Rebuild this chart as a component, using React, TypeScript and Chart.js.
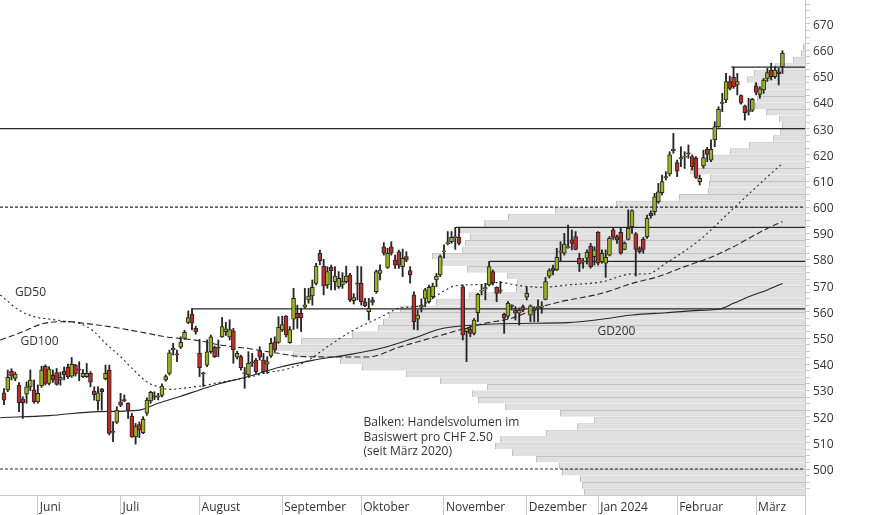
import React, { useEffect, useRef } from 'react';
import { Chart, registerables } from 'chart.js';

Chart.register(...registerables);

const FONT = "'Open Sans', 'Noto Sans', sans-serif";
const INK = '#262626';
const UP = '#9db31f';
const DOWN = '#b8302a';
const AXIS = '#c9c9c9';

// ---- Candles (trading-day index 0 = mid May 2023) ----
const opens = [
  529.1, 530.2, 537.3, 534.6, 532.1, 526.7, 528.6, 531.4, 530.2, 525.6,
  531.7, 539.3, 532.7, 535.8, 536.8, 534.0, 537.3, 538.8, 535.5, 539.7,
  538.1, 535.3, 535.3, 536.5, 529.8, 526.0, 530.5, 534.5, 537.8, 514.0,
  517.8, 525.7, 526.4, 525.1, 520.2, 512.3, 517.0, 513.9, 521.3, 526.0,
  527.8, 527.6, 528.1, 534.0, 536.5, 545.8, 543.9, 546.5, 549.9, 556.0,
  559.2, 553.7, 544.2, 536.6, 539.7, 544.8, 546.5, 546.5, 550.5, 552.5,
  550.5, 552.8, 542.7, 542.9, 536.6, 535.9, 540.8, 541.6, 545.1, 541.6,
  540.0, 543.2, 548.6, 548.4, 553.1, 558.4, 548.3, 557.2, 559.5, 559.5,
  561.8, 564.6, 566.1, 570.9, 582.4, 577.5, 570.3, 577.0, 571.6, 569.6,
  570.3, 571.6, 574.1, 564.3, 570.9, 570.9, 563.9, 560.1, 564.6, 567.7,
  574.7, 584.9, 577.0, 584.9, 579.8, 583.0, 577.3, 581.1, 575.8, 566.5,
  557.2, 561.8, 565.2, 563.9, 565.8, 572.2, 574.1, 583.0, 586.2, 586.8,
  588.5, 588.5, 569.6, 552.5, 553.4, 551.8, 559.7, 568.1, 569.0, 570.3,
  575.4, 569.4, 568.2, 559.1, 558.4, 562.3, 560.7, 559.5, 562.0, 565.6,
  558.8, 561.4, 561.8, 562.0, 564.8, 573.7, 576.7, 576.0, 583.0, 582.4,
  584.7, 587.5, 588.8, 580.5, 579.2, 580.5, 585.2, 581.1, 590.4, 579.2,
  578.6, 581.7, 591.3, 588.8, 590.4, 583.9, 587.7, 592.6, 589.8, 584.2,
  587.7, 588.7, 597.7, 598.3, 602.1, 605.6, 611.4, 612.7, 621.8, 617.0,
  618.6, 619.3, 620.6, 619.3, 618.7, 609.8, 615.8, 622.1, 618.0, 625.7,
  630.8, 639.8, 641.0, 648.0, 649.6, 646.7, 642.6, 638.7, 636.5, 637.1,
  646.3, 643.1, 644.8, 649.2, 652.4, 649.9, 651.7, 653.7,
];
const highs = [
  530.7, 537.8, 538.3, 537.0, 533.0, 527.6, 533.3, 537.8, 534.0, 532.1,
  539.3, 539.8, 539.1, 537.8, 538.4, 537.0, 539.0, 540.1, 542.6, 540.0,
  541.0, 538.0, 540.3, 537.2, 531.4, 531.4, 530.8, 539.7, 539.7, 518.1,
  523.8, 528.9, 528.3, 525.3, 521.3, 517.4, 518.0, 520.0, 527.2, 529.7,
  529.5, 528.9, 532.5, 536.0, 545.4, 548.0, 545.4, 550.5, 553.0, 560.4,
  561.2, 554.5, 549.5, 537.0, 549.3, 551.2, 547.0, 549.3, 557.9, 556.0,
  557.0, 553.7, 545.0, 543.5, 538.8, 544.8, 544.2, 542.3, 546.7, 544.2,
  542.9, 549.9, 550.5, 558.2, 558.4, 558.6, 554.4, 569.0, 562.6, 561.4,
  569.0, 569.0, 572.2, 578.6, 583.6, 580.1, 577.3, 577.9, 577.3, 575.4,
  575.0, 577.5, 574.7, 567.0, 577.5, 577.3, 565.2, 565.2, 565.6, 576.0,
  578.0, 586.5, 584.3, 586.8, 581.7, 583.6, 584.0, 583.0, 577.3, 567.7,
  560.7, 565.0, 569.0, 570.3, 571.0, 574.7, 581.7, 585.6, 590.7, 590.7,
  592.3, 591.9, 570.3, 553.8, 554.5, 557.5, 567.1, 570.3, 570.9, 579.3,
  576.0, 569.6, 571.6, 559.5, 564.0, 562.8, 562.0, 561.5, 562.6, 569.6,
  562.7, 562.0, 564.6, 563.9, 573.2, 576.5, 577.9, 584.3, 586.8, 590.0,
  593.2, 591.3, 590.7, 582.4, 580.5, 583.7, 586.2, 584.9, 590.7, 583.7,
  583.7, 588.8, 592.3, 589.4, 592.3, 586.8, 599.0, 599.0, 590.3, 584.9,
  588.5, 597.0, 598.6, 605.3, 609.1, 612.3, 613.6, 621.2, 628.2, 618.0,
  623.1, 621.2, 623.8, 620.0, 619.3, 612.3, 621.8, 622.9, 625.7, 632.7,
  638.4, 643.5, 651.1, 650.1, 653.5, 651.1, 642.9, 639.0, 641.6, 641.6,
  647.6, 646.0, 649.2, 653.0, 655.0, 653.7, 653.0, 659.8,
];
const lows = [
  524.6, 529.5, 534.0, 533.7, 521.9, 519.3, 525.1, 529.9, 525.1, 525.1,
  531.2, 532.1, 532.1, 533.1, 532.0, 532.0, 534.0, 534.6, 535.0, 535.5,
  533.7, 535.0, 535.0, 531.4, 526.3, 522.5, 522.5, 534.0, 513.0, 510.4,
  517.4, 523.8, 525.7, 519.3, 512.1, 509.5, 512.0, 513.5, 520.5, 525.1,
  526.5, 526.4, 527.5, 533.5, 535.9, 543.5, 541.0, 546.0, 549.5, 555.5,
  553.1, 551.5, 535.3, 531.5, 539.1, 544.2, 542.6, 542.9, 550.3, 551.0,
  549.3, 540.4, 542.0, 537.8, 530.8, 535.3, 539.1, 536.5, 541.6, 536.5,
  536.5, 542.6, 544.8, 548.0, 552.5, 550.5, 548.0, 553.3, 553.7, 552.5,
  561.4, 563.3, 562.6, 570.3, 578.0, 566.5, 569.0, 568.4, 568.4, 569.0,
  569.0, 571.0, 563.9, 563.0, 564.6, 562.6, 562.0, 556.9, 562.6, 567.1,
  572.2, 581.7, 576.6, 581.7, 576.6, 576.6, 573.5, 579.2, 571.0, 553.3,
  553.1, 560.0, 562.0, 563.3, 565.0, 569.6, 573.5, 580.5, 585.6, 586.2,
  583.9, 585.6, 549.3, 541.0, 550.5, 551.2, 556.3, 566.5, 564.6, 569.9,
  570.3, 563.9, 567.1, 551.8, 557.5, 560.7, 556.9, 555.0, 560.1, 564.6,
  556.3, 556.3, 556.3, 559.5, 564.6, 573.0, 574.1, 575.8, 579.2, 581.7,
  584.3, 583.7, 583.7, 575.4, 576.7, 578.3, 576.7, 577.9, 577.9, 578.6,
  573.2, 581.4, 587.7, 586.2, 582.0, 583.7, 587.5, 590.0, 573.7, 582.4,
  582.4, 588.1, 595.8, 597.0, 601.5, 604.7, 610.4, 611.9, 620.6, 611.7,
  615.5, 614.8, 618.7, 614.2, 611.0, 608.5, 614.9, 617.4, 617.4, 623.1,
  630.5, 636.5, 639.9, 644.8, 645.4, 642.9, 639.4, 633.3, 635.2, 636.5,
  642.9, 641.6, 643.5, 648.0, 648.6, 649.2, 646.7, 651.1,
];
const closes = [
  526.3, 535.0, 535.5, 536.3, 525.3, 525.3, 531.4, 534.0, 525.6, 528.9,
  537.8, 532.7, 538.2, 534.0, 532.3, 535.0, 535.9, 535.3, 540.0, 536.3,
  537.8, 536.5, 536.5, 533.2, 528.3, 529.1, 529.5, 536.5, 513.6, 514.3,
  522.5, 524.4, 526.2, 522.5, 512.3, 516.2, 515.0, 519.0, 526.3, 529.3,
  527.6, 527.8, 531.7, 535.3, 544.4, 545.9, 543.7, 548.4, 552.2, 557.8,
  555.7, 552.4, 538.7, 536.4, 544.8, 550.5, 542.9, 546.3, 554.4, 553.5,
  553.3, 545.5, 544.2, 538.7, 536.5, 540.4, 540.7, 537.2, 542.7, 537.2,
  541.0, 548.0, 545.5, 554.1, 555.2, 551.2, 553.3, 565.2, 557.7, 557.7,
  562.7, 566.1, 569.4, 577.5, 579.6, 569.9, 575.4, 575.8, 573.7, 572.8,
  571.6, 573.7, 564.6, 565.5, 570.8, 563.9, 562.3, 561.4, 563.6, 575.4,
  576.0, 582.4, 582.4, 582.4, 577.9, 577.9, 580.5, 579.8, 574.1, 556.3,
  558.8, 562.6, 568.4, 569.4, 569.9, 573.7, 581.1, 583.2, 586.4, 588.5,
  588.6, 586.2, 551.2, 553.7, 551.8, 556.9, 566.7, 568.2, 569.1, 577.3,
  571.2, 567.1, 568.1, 557.6, 563.3, 562.4, 559.5, 560.7, 560.7, 567.1,
  562.3, 560.4, 561.9, 562.1, 571.6, 575.8, 575.8, 580.9, 583.1, 585.9,
  584.8, 586.2, 583.9, 578.3, 579.3, 582.8, 577.3, 583.7, 578.6, 582.4,
  580.9, 588.1, 588.5, 587.5, 582.4, 586.2, 591.9, 598.7, 583.9, 583.0,
  583.9, 595.8, 596.8, 604.0, 605.9, 609.8, 611.5, 620.0, 621.9, 613.8,
  618.8, 619.4, 620.5, 615.5, 611.4, 611.0, 619.0, 620.2, 622.1, 630.8,
  637.4, 640.0, 648.0, 645.4, 646.0, 648.0, 639.7, 636.1, 636.8, 641.2,
  643.8, 645.2, 648.6, 651.4, 649.9, 652.4, 651.0, 658.8,
];

// ---- Moving averages (read at trading-day indices) ----
const gd50Day = [-1, 4, 8, 12, 17, 20, 24, 27, 31, 34, 38, 41, 44, 49, 54, 57, 65, 69, 76, 81, 86, 93, 100, 105, 111, 114, 117, 120, 127, 132, 136, 143, 150, 159, 167, 171, 176, 185, 194, 203, 207];
const gd50Val = [566.5, 560.7, 558.2, 557.3, 556.3, 555.7, 552.4, 548.0, 542.9, 538.5, 533.3, 531.4, 530.4, 531.1, 532.1, 533.0, 535.0, 536.5, 538.5, 541.6, 546.7, 553.1, 557.9, 561.4, 562.5, 565.2, 568.0, 570.0, 570.5, 571.3, 570.3, 569.4, 570.3, 571.5, 574.5, 574.5, 578.6, 587.5, 599.6, 611.6, 616.7];
const gd100Day = [-1, 5, 10, 17, 21, 28, 36, 43, 52, 57, 65, 72, 79, 87, 97, 105, 116, 127, 135, 143, 148, 159, 167, 174, 181, 188, 194, 198, 203, 207];
const gd100Val = [549.3, 552.4, 555.4, 556.3, 555.7, 554.4, 552.4, 550.5, 549.0, 547.5, 546.0, 544.4, 543.0, 542.8, 542.8, 546.5, 551.0, 555.4, 557.6, 562.0, 563.9, 567.1, 570.9, 573.5, 577.3, 580.9, 584.9, 588.1, 591.9, 594.5];
const gd200Day = [-1, 12, 25, 36, 41, 47, 52, 57, 65, 73, 82, 91, 100, 109, 116, 123, 136, 150, 159, 167, 176, 185, 190, 194, 198, 203, 207];
const gd200Val = [519.6, 520.4, 521.9, 522.5, 525.1, 527.8, 530.2, 532.5, 535.3, 538.8, 541.5, 543.5, 546.0, 550.0, 553.5, 554.8, 555.6, 555.9, 557.2, 558.8, 559.7, 560.6, 561.0, 563.3, 565.8, 568.4, 570.9];

// ---- Horizontal levels ----
const levelValue = [630, 600, 500, 561.2, 592.3, 579.3, 653.5];
const levelFrom = [-1.06, -1.06, -1.06, 49.8, 120.2, 129.1, 193.4];
const levelDashed = [false, true, true, false, false, false, false];

// ---- Volume profile per CHF 2.50 (lower bound of each bin) ----
const profilePrice = [
  490, 492.5, 495, 497.5, 500, 502.5, 505, 507.5, 510, 512.5,
  515, 517.5, 520, 522.5, 525, 527.5, 530, 532.5, 535, 537.5,
  540, 542.5, 545, 547.5, 550, 552.5, 555, 557.5, 560, 562.5,
  565, 567.5, 570, 572.5, 575, 577.5, 580, 582.5, 585, 587.5,
  590, 592.5, 595, 597.5, 600, 602.5, 605, 607.5, 610, 612.5,
  615, 617.5, 620, 622.5, 625, 627.5, 630, 632.5, 635, 637.5,
  640, 642.5, 645, 647.5, 650, 652.5, 655, 657.5, 660,
];
const profileVolume = [
  221, 223, 225, 243, 246, 269, 293, 310, 305, 259,
  228, 211, 245, 300, 327, 333, 318, 365, 399, 443,
  465, 512, 530, 504, 453, 427, 422, 416, 405, 369,
  336, 289, 288, 298, 338, 363, 373, 343, 340, 335,
  345, 321, 297, 250, 189, 126, 97, 96, 95, 115,
  103, 92, 75, 56, 32, 25, 23, 26, 39, 50,
  48, 47, 51, 58, 51, 30, 12, 4, 2,
];

// ---- Axes ----
const monthStarts = [9, 31, 52, 74, 95, 117, 139, 158, 179, 200];
const monthNames = ['Juni', 'Juli', 'August', 'September', 'Oktober', 'November', 'Dezember', 'Jan 2024', 'Februar', 'März'];
const priceLabels = [500, 510, 520, 530, 540, 550, 560, 570, 580, 590, 600, 610, 620, 630, 640, 650, 660, 670];

// ---- Notes ----
const noteText = ['GD50', 'GD100', 'GD200', 'Balken: Handelsvolumen im', 'Basiswert pro CHF 2.50', '(seit März 2020)'];
const noteDay = [2.9, 4.4, 157.8, 95.6, 95.6, 95.6];
const notePrice = [567.4, 548.5, 552.6, 517.6, 512.0, 506.5];

const X_MIN = -1.06;
const X_MAX = 213;
const Y_MIN = 490.07;
const Y_MAX = 679.15;
const VOL_MAX = 805;
const BIN = 2.5;

// frame of the figure (pixels)
const W = 874;
const H = 515;
const AREA_R = 805;
const AREA_B = 495;

export default function App() {
  const canvasRef = useRef<HTMLCanvasElement | null>(null);

  useEffect(() => {
    const canvas = canvasRef.current;
    if (!canvas) return;

    const days = closes.map((_, i) => i);
    const wickData = days.map((i) => ({ x: i, y: [lows[i], highs[i]] }));
    const bodyData = days.map((i) => {
      let o = opens[i];
      let c = closes[i];
      if (Math.abs(c - o) < 0.45) {
        const m = (o + c) / 2;
        o = m - 0.22;
        c = m + 0.22;
      }
      return { x: i, y: [o, c] };
    });
    const bodyColors = days.map((i) => (closes[i] >= opens[i] ? UP : DOWN));

    const binPx = (AREA_B * BIN) / (Y_MAX - Y_MIN);

    const lineDs = (xs: number[], ys: number[], dash: number[], order: number) => ({
      type: 'line' as const,
      data: xs.map((x, k) => ({ x, y: ys[k] })),
      borderColor: INK,
      borderWidth: 1.1,
      borderDash: dash,
      pointRadius: 0,
      cubicInterpolationMode: 'monotone' as const,
      xAxisID: 'x',
      yAxisID: 'y',
      order,
    });

    const levelSets = levelValue.map((v, k) => ({
      type: 'line' as const,
      data: [
        { x: levelFrom[k], y: v },
        { x: X_MAX, y: v },
      ],
      borderColor: INK,
      borderWidth: 1.2,
      borderDash: levelDashed[k] ? [3, 2] : [],
      pointRadius: 0,
      xAxisID: 'x',
      yAxisID: 'y',
      order: 5,
    }));

    const fixLayout = {
      id: 'fixLayout',
      afterLayout(chart: any) {
        chart.chartArea = { left: 0, top: 0, right: AREA_R, bottom: AREA_B, width: AREA_R, height: AREA_B };
        const place = (s: any, l: number, t: number, r: number, b: number) => {
          if (!s) return;
          s.left = l;
          s.top = t;
          s.right = r;
          s.bottom = b;
          s.width = r - l;
          s.height = b - t;
          s.paddingLeft = 0;
          s.paddingRight = 0;
          s.paddingTop = 0;
          s.paddingBottom = 0;
          s.configure();
        };
        place(chart.scales.x, 0, AREA_B, AREA_R, H);
        place(chart.scales.xv, 0, AREA_B, AREA_R, AREA_B);
        place(chart.scales.y, AREA_R, 0, W, AREA_B);
      },
    };

    const notesPlugin = {
      id: 'notes',
      afterDatasetsDraw(chart: any) {
        const { ctx } = chart;
        const sx = chart.scales.x;
        const sy = chart.scales.y;
        ctx.save();
        ctx.font = `12px ${FONT}`;
        ctx.fillStyle = '#333';
        ctx.textAlign = 'left';
        ctx.textBaseline = 'middle';
        noteText.forEach((t, k) => {
          ctx.fillText(t, sx.getPixelForValue(noteDay[k]), sy.getPixelForValue(notePrice[k]));
        });
        ctx.restore();
      },
    };

    const chart = new Chart(canvas, {
      type: 'bar',
      data: {
        datasets: [
          {
            type: 'bar',
            indexAxis: 'y',
            data: profilePrice.map((p, k) => ({ x: profileVolume[k], y: p + BIN / 2 })),
            xAxisID: 'xv',
            yAxisID: 'y',
            backgroundColor: '#e0e0e0',
            borderColor: '#c2c2c2',
            borderWidth: { top: 1, left: 1, right: 0, bottom: 0 },
            borderSkipped: false,
            barThickness: binPx,
            grouped: false,
            inflateAmount: 0,
            order: 10,
          } as any,
          ...levelSets,
          lineDs(gd200Day, gd200Val, [], 4),
          lineDs(gd100Day, gd100Val, [6, 3], 4),
          lineDs(gd50Day, gd50Val, [2, 3], 4),
          {
            type: 'bar',
            data: wickData,
            xAxisID: 'x',
            yAxisID: 'y',
            backgroundColor: INK,
            borderWidth: 0,
            barThickness: 1.2,
            grouped: false,
            order: 2,
          } as any,
          {
            type: 'bar',
            data: bodyData,
            xAxisID: 'x',
            yAxisID: 'y',
            backgroundColor: bodyColors,
            borderColor: INK,
            borderWidth: 1,
            borderSkipped: false,
            barThickness: 4,
            grouped: false,
            order: 1,
          } as any,
        ] as any,
      },
      options: {
        animation: false,
        responsive: false,
        maintainAspectRatio: false,
        events: [],
        layout: { padding: 0, autoPadding: false },
        plugins: { legend: { display: false }, tooltip: { enabled: false } },
        scales: {
          x: {
            type: 'linear',
            position: 'bottom',
            offset: false,
            min: X_MIN,
            max: X_MAX,
            afterBuildTicks: (s: any) => {
              s.ticks = [...monthStarts, X_MAX].map((v) => ({ value: v }));
            },
            afterFit: (s: any) => {
              s.height = H - AREA_B;
              s.paddingLeft = 0;
              s.paddingRight = 0;
            },
            ticks: {
              autoSkip: false,
              maxRotation: 0,
              minRotation: 0,
              align: 'start',
              labelOffset: 2,
              padding: -15,
              color: '#333',
              font: { family: FONT, size: 12 },
              callback: (_v: any, i: number) => (i < monthNames.length ? monthNames[i] : ''),
            },
            grid: { offset: false, drawOnChartArea: false, drawTicks: true, tickLength: 20, color: AXIS },
            border: { display: true, color: AXIS },
          },
          xv: {
            type: 'linear',
            axis: 'x',
            position: 'bottom',
            offset: false,
            display: false,
            min: 0,
            max: VOL_MAX,
            reverse: true,
          },
          y: {
            type: 'linear',
            position: 'right',
            offset: false,
            min: Y_MIN,
            max: Y_MAX,
            afterBuildTicks: (s: any) => {
              const t: any[] = [];
              for (let v = 492.5; v <= 677.5; v += BIN) t.push({ value: v });
              s.ticks = t;
            },
            afterFit: (s: any) => {
              s.width = W - AREA_R;
              s.paddingTop = 0;
              s.paddingBottom = 0;
            },
            ticks: {
              autoSkip: false,
              padding: 3,
              labelOffset: 1.5,
              color: '#333',
              font: { family: FONT, size: 12 },
              callback: (v: any) => (priceLabels.includes(Math.round(Number(v) * 10) / 10) ? String(v) : ''),
            },
            grid: { offset: false, drawOnChartArea: false, drawTicks: true, tickLength: 5, color: AXIS },
            border: { display: true, color: AXIS },
          },
        },
      } as any,
      plugins: [fixLayout, notesPlugin],
    });

    return () => chart.destroy();
  }, []);

  return (
    <div style={{ position: 'absolute', left: 0, top: 0, width: W, height: H, background: '#fff' }}>
      <canvas ref={canvasRef} width={W} height={H} style={{ display: 'block', width: W, height: H }} />
    </div>
  );
}
